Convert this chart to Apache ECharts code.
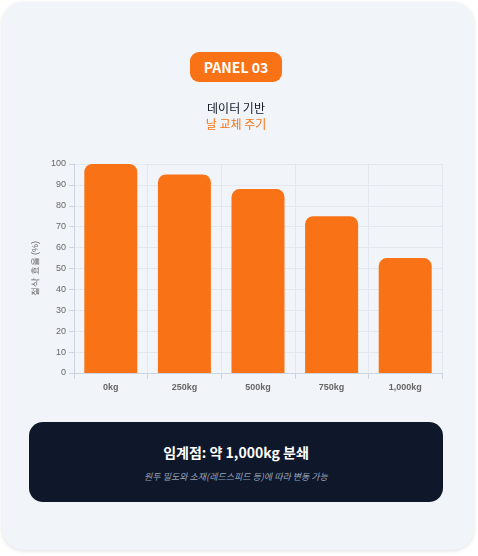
<!DOCTYPE html>
<html><head><meta charset="utf-8">
<script src="https://cdn.jsdelivr.net/npm/echarts@6/dist/echarts.min.js"></script>
<style>
body{margin:0;width:478px;height:556px;background:#fff;font-family:"Noto Sans CJK KR","Noto Sans",sans-serif;overflow:hidden}
#card{position:absolute;left:2px;top:2px;width:472px;height:548px;background:#f1f5f9;border-radius:22px;box-shadow:0 1px 4px rgba(0,0,0,0.12)}
#chart{position:absolute;left:0;top:0;width:478px;height:556px}
#badge{position:absolute;left:190px;top:52px;width:92px;height:30px;background:#f97316;border-radius:9px;color:#fff;font-weight:bold;font-size:14px;line-height:30px;text-align:center}
#t1{position:absolute;left:0;width:472px;top:100px;text-align:center;font-size:12px;color:#111827;line-height:16px}
#t2{position:absolute;left:0;width:472px;top:116px;text-align:center;font-size:12px;color:#f97316;line-height:16px}
#box{position:absolute;left:29px;top:422px;width:414px;height:80px;background:#0f172a;border-radius:14px;text-align:center}
#b1{color:#fff;font-weight:bold;font-size:14px;margin-top:20px;line-height:20px}
#b2{color:#94a3b8;font-style:italic;font-size:9px;margin-top:8px}
</style></head><body>
<div id="card"></div>
<div id="chart"></div>
<div id="badge">PANEL 03</div>
<div id="t1">데이터 기반</div>
<div id="t2">날 교체 주기</div>
<div id="box"><div id="b1">임계점: 약 1,000kg 분쇄</div><div id="b2">원두 밀도와 소재(레드스피드 등)에 따라 변동 가능</div></div>
<script>
const categories=["0kg","250kg","500kg","750kg","1,000kg"];
const efficiency=[100,95,88,75,55];
const c=echarts.init(document.getElementById('chart'));
c.setOption({
 grid:{left:74,right:36,top:164,bottom:183},
 xAxis:{type:'category',data:categories,axisLine:{lineStyle:{color:'#cbd5e1'}},axisTick:{show:true,lineStyle:{color:'#cbd5e1'},length:6},
  splitLine:{show:true,lineStyle:{color:'#e2e8f0'}},
  axisLabel:{color:'#666',fontSize:9,fontWeight:'bold',margin:10,fontFamily:'Liberation Sans'}},
 yAxis:{type:'value',min:0,max:100,interval:10,name:'절삭 효율 (%)',nameLocation:'middle',nameGap:30,nameTextStyle:{color:'#666',fontSize:9},
  axisLine:{show:true,lineStyle:{color:'#cbd5e1'}},axisTick:{show:true,lineStyle:{color:'#cbd5e1'}},
  splitLine:{lineStyle:{color:'#e2e8f0'}},axisLabel:{color:'#666',fontSize:9,fontFamily:'Liberation Sans'}},
 series:[{type:'bar',data:efficiency,barWidth:53,itemStyle:{color:'#f97316',borderRadius:[8,8,0,0]}}]
});
</script></body></html>
